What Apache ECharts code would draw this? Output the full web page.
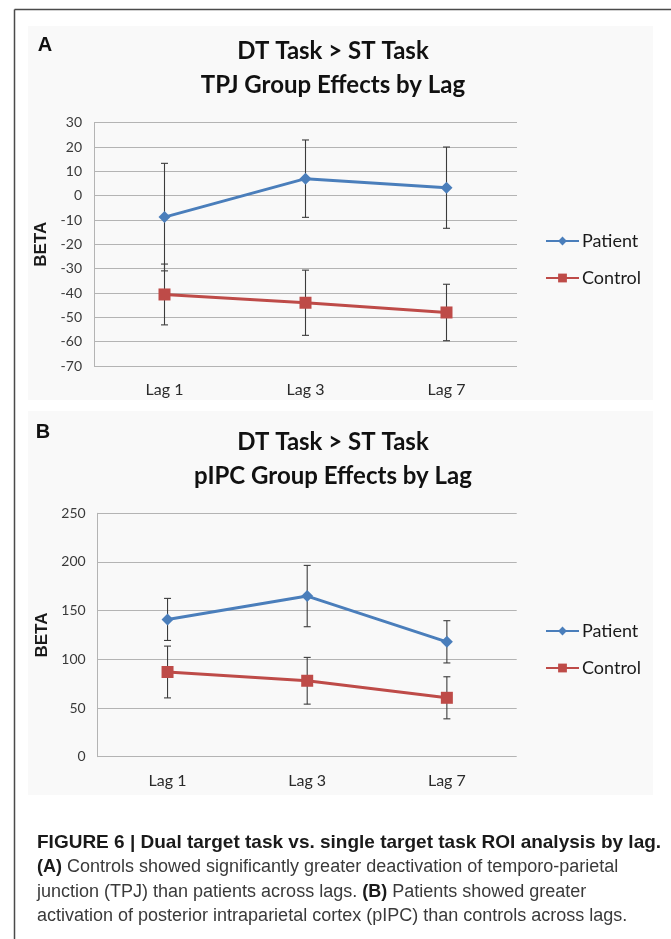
<!DOCTYPE html>
<html>
<head>
<meta charset="utf-8">
<script src="https://cdn.jsdelivr.net/npm/echarts@6/dist/echarts.min.js"></script>
<style>
  html, body { margin: 0; padding: 0; background: #ffffff; }
  #wrap { position: relative; width: 671px; height: 939px; overflow: hidden; }
  #chart { position: absolute; left: 0; top: 0; width: 671px; height: 939px; }
  #caption { position: absolute; left: 37px; top: 830px; width: 634px;
    font-family: 'Liberation Sans Narrow', 'Liberation Sans', Arial, sans-serif;
    font-size: 18px; line-height: 24.3px; color: #3a3a3a; white-space: nowrap; }
  #caption b { color: #1a1a1a; }
  #caption .head { font-size: 19px; }
</style>
</head>
<body>
<div id="wrap">
  <div id="chart"></div>
  <div id="caption">
    <b class="head">FIGURE 6 | Dual target task vs. single target task ROI analysis by lag.</b><br>
    <b>(A)</b> Controls showed significantly greater deactivation of temporo-parietal<br>
    junction (TPJ) than patients across lags. <b>(B)</b> Patients showed greater<br>
    activation of posterior intraparietal cortex (pIPC) than controls across lags.
  </div>
</div>
<script>
// ---- data ----
const categories = ['Lag 1', 'Lag 3', 'Lag 7'];
const seriesNames = ['Patient', 'Control'];

// Panel A: TPJ
const tpjPatient = [-8.8, 7.0, 3.3];
const tpjPatientErr = [22.1, 15.9, 16.7];
const tpjControl = [-40.6, -44.0, -48.0];
const tpjControlErr = [12.5, 13.4, 11.6];
const tpjTicks = { min: -70, max: 30, interval: 10 };

// Panel B: pIPC
const pipcPatient = [141, 165, 118];
const pipcPatientErr = [21.6, 31.5, 21.7];
const pipcControl = [87, 78, 60.5];
const pipcControlErr = [26.6, 24, 21.6];
const pipcTicks = { min: 0, max: 250, interval: 50 };

const titlesA = ['DT Task > ST Task', 'TPJ Group Effects by Lag'];
const titlesB = ['DT Task > ST Task', 'pIPC Group Effects by Lag'];

// ---- styles ----
const BLUE = '#4a7ebb';
const RED = '#be4b48';
const GRID = '#b4b4b4';
const FONT = 'Lato, "Open Sans", sans-serif';

function errData(mean, err) {
  return mean.map((m, i) => [i, m - err[i], m + err[i]]);
}

function errSeries(xi, yi, mean, err) {
  return {
    type: 'custom',
    xAxisIndex: xi, yAxisIndex: yi,
    z: 1,
    silent: true,
    data: errData(mean, err),
    renderItem: function (params, api) {
      const x = api.value(0);
      const lo = api.coord([x, api.value(1)]);
      const hi = api.coord([x, api.value(2)]);
      const w = 3.5;
      const st = { stroke: '#3c3c3c', lineWidth: 1.1 };
      return {
        type: 'group',
        children: [
          { type: 'line', shape: { x1: hi[0], y1: hi[1], x2: lo[0], y2: lo[1] }, style: st },
          { type: 'line', shape: { x1: hi[0] - w, y1: hi[1], x2: hi[0] + w, y2: hi[1] }, style: st },
          { type: 'line', shape: { x1: lo[0] - w, y1: lo[1], x2: lo[0] + w, y2: lo[1] }, style: st }
        ]
      };
    }
  };
}

function lineSeries(name, xi, yi, data, color, symbol, size) {
  return {
    name: name, type: 'line',
    xAxisIndex: xi, yAxisIndex: yi,
    z: 3,
    data: data,
    symbol: symbol, symbolSize: size,
    lineStyle: { color: color, width: 3 },
    itemStyle: { color: color },
    emphasis: { disabled: true },
    animation: false
  };
}

function xAxis(gi) {
  return {
    type: 'category', gridIndex: gi, data: categories,
    boundaryGap: true,
    axisLine: { show: false },
    axisTick: { show: false },
    axisLabel: { color: '#2a2a2a', fontSize: 16, fontFamily: FONT, margin: 16 }
  };
}

function yAxis(gi, t, gap) {
  return {
    type: 'value', gridIndex: gi, min: t.min, max: t.max, interval: t.interval,
    name: 'BETA', nameLocation: 'middle', nameRotate: 90, nameGap: gap,
    nameTextStyle: { fontSize: 17, fontWeight: 'bold', color: '#1a1a1a', fontFamily: 'Liberation Sans, Arial, sans-serif' },
    axisLine: { show: true, lineStyle: { color: GRID, width: 1 } },
    axisTick: { show: false },
    splitLine: { show: true, lineStyle: { color: GRID, width: 1 } },
    axisLabel: { color: '#3a3a3a', fontSize: 14, fontFamily: FONT, margin: 12 }
  };
}

function legend(top) {
  return {
    orient: 'vertical', left: 540, top: top,
    itemWidth: 33, itemHeight: 11, itemGap: 19,
    data: seriesNames,
    textStyle: { fontSize: 18, color: '#1a1a1a', fontFamily: FONT, padding: [0, 0, 0, -2] },
    selectedMode: false
  };
}

function txt(x, y, text, font, align) {
  return {
    type: 'text', x: x, y: y, z: 5,
    style: { text: text, font: font, fill: '#111111', textAlign: align || 'center', textVerticalAlign: 'middle' }
  };
}

const chart = echarts.init(document.getElementById('chart'), null, { renderer: 'canvas' });

const option = {
  backgroundColor: '#ffffff',
  animation: false,
  textStyle: { fontFamily: FONT },
  graphic: [
    { type: 'rect', z: -10, shape: { x: 28, y: 26, width: 625, height: 374 }, style: { fill: '#f9f9f9' } },
    { type: 'rect', z: -10, shape: { x: 28, y: 411, width: 625, height: 384 }, style: { fill: '#f9f9f9' } },
    { type: 'line', z: 10, shape: { x1: 14.5, y1: 9.5, x2: 671, y2: 9.5 }, style: { stroke: '#4a4a4a', lineWidth: 1.5 } },
    { type: 'line', z: 10, shape: { x1: 14.5, y1: 9.5, x2: 14.5, y2: 939 }, style: { stroke: '#4a4a4a', lineWidth: 1.5 } },
    txt(45, 45, 'A', 'bold 20px "Liberation Sans", Arial, sans-serif'),
    txt(43, 432, 'B', 'bold 20px "Liberation Sans", Arial, sans-serif'),
    txt(333, 51, titlesA[0], 'bold 24px Lato, sans-serif'),
    txt(333, 85, titlesA[1], 'bold 24px Lato, sans-serif'),
    txt(333, 442, titlesB[0], 'bold 24px Lato, sans-serif'),
    txt(333, 476, titlesB[1], 'bold 24px Lato, sans-serif')
  ],
  legend: [legend(227), legend(617)],
  grid: [
    { left: 94, width: 423, top: 122.7, height: 243.3, containLabel: false },
    { left: 97.7, width: 419, top: 513.3, height: 243.4, containLabel: false }
  ],
  xAxis: [xAxis(0), xAxis(1)],
  yAxis: [yAxis(0, tpjTicks, 42), yAxis(1, pipcTicks, 45)],
  series: [
    errSeries(0, 0, tpjPatient, tpjPatientErr),
    errSeries(0, 0, tpjControl, tpjControlErr),
    lineSeries('Patient', 0, 0, tpjPatient, BLUE, 'diamond', 12),
    lineSeries('Control', 0, 0, tpjControl, RED, 'rect', 12),
    errSeries(1, 1, pipcPatient, pipcPatientErr),
    errSeries(1, 1, pipcControl, pipcControlErr),
    lineSeries('Patient', 1, 1, pipcPatient, BLUE, 'diamond', 12),
    lineSeries('Control', 1, 1, pipcControl, RED, 'rect', 12)
  ]
};
chart.setOption(option);
</script>
</body>
</html>
